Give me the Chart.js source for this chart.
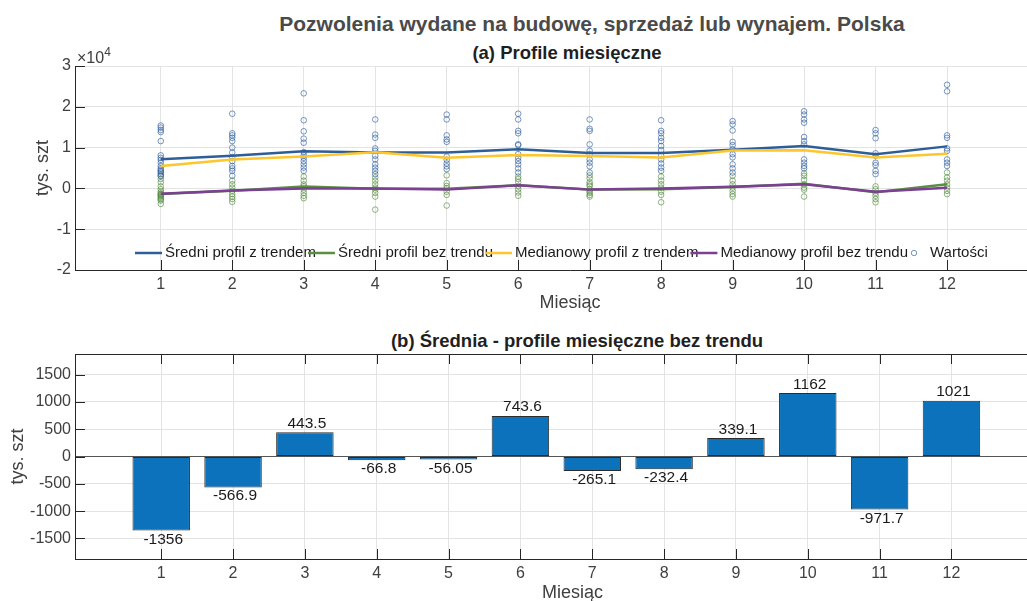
<!DOCTYPE html>
<html>
<head>
<meta charset="utf-8">
<script src="https://cdn.jsdelivr.net/npm/chart.js@4.4.0/dist/chart.umd.min.js"></script>
<style>
    html, body { margin: 0; padding: 0; background: #fff; overflow: hidden; }
    #wrap { position: relative; width: 1027px; height: 601px; overflow: hidden; }
    .box { position: absolute; left: 0; }
    .title {
        position: absolute;
        font-family: 'Liberation Sans', Arial, sans-serif;
        font-weight: bold;
        white-space: nowrap;
        transform: translateX(-50%);
        line-height: 1;
    }
</style>
</head>
<body>
<div id="wrap">
    <div class="title" style="left:592px;top:13px;font-size:21px;color:#4a4a4a;">Pozwolenia wydane na budowę, sprzedaż lub wynajem. Polska</div>
    <div class="title" style="left:567px;top:44px;font-size:18.5px;color:#1f1f1f;">(a) Profile miesięczne</div>
    <div class="title" style="left:577px;top:332px;font-size:18.5px;color:#1f1f1f;">(b) Średnia - profile miesięczne bez trendu</div>
    <canvas id="profileChart" class="box" style="top:0" width="1070" height="320"></canvas>
    <canvas id="barChart" class="box" style="top:320px" width="1070" height="281"></canvas>
</div>

<script>
// Dane
const months = [1, 2, 3, 4, 5, 6, 7, 8, 9, 10, 11, 12];

const meanTrend = [7150, 8000, 9100, 8800, 8800, 9600, 8700, 8700, 9500, 10400, 8400, 10300];
const meanNoTrend = [-1356, -566.9, 443.5, -66.8, -56.05, 743.6, -265.1, -232.4, 339.1, 1162, -971.7, 1021];
const medianTrend = [5500, 7100, 7800, 8850, 7500, 8200, 7950, 7600, 9300, 9350, 7600, 8500];
const medianNoTrend = [-1300, -500, 0, 0, -300, 800, -300, 0, 400, 1000, -800, 150];

// Wartości roczne z trendem (dla każdego miesiąca)
const valuesTrend = [
    [15400, 14900, 14300, 13800, 11600, 8100, 7500, 7000, 6300, 5500, 4900, 4500, 4200, 3900, 3500, 3000],
    [18300, 13500, 13000, 12400, 11600, 10000, 8800, 7600, 6700, 5500, 4900, 4300, 3100],
    [23300, 16700, 14000, 12200, 11200, 8900, 8100, 7500, 6700, 5900, 5100, 4300],
    [16900, 13200, 12400, 9800, 9200, 8000, 7100, 5900, 5100, 4300, 3500],
    [18100, 16900, 13000, 12000, 11400, 7800, 7000, 6100, 5400, 4700],
    [18300, 16900, 14100, 13500, 10800, 10600, 8400, 7500, 6700, 5900, 4900, 3900],
    [16900, 14600, 14100, 10800, 9200, 8400, 7100, 6300, 5400, 3900],
    [16700, 14100, 13500, 12400, 11600, 10400, 9400, 8000, 7100, 6100, 5100, 4300],
    [16500, 15700, 14200, 11400, 10600, 9600, 8400, 7600, 5900, 4900, 3900],
    [18900, 18100, 16900, 16100, 12600, 11600, 10800, 7100, 6300, 5500, 4900],
    [14300, 13500, 12300, 8600, 8000, 6300, 5700, 4300, 3500],
    [25400, 23800, 13000, 12400, 9800, 9200, 7100, 6300, 5500]
];

// Wartości roczne bez trendu
const valuesNoTrend = [
    [3100, 2300, 1500, 500, -200, -800, -1200, -1400, -1600, -1800, -2100, -2400, -2700, -3000, -3800],
    [1900, 1000, 200, -600, -1400, -2000, -2600, -3300],
    [2900, 1900, 1000, 500, -300, -1100, -1800, -2400],
    [2700, 1900, 1000, 200, -300, -1100, -2000, -5200],
    [3200, 1300, 600, 0, -800, -1600, -4200],
    [2900, 2300, 1500, 600, -200, -1000, -1800],
    [3200, 2500, 1500, 1000, 600, -200, -700, -1100, -1600, -2000],
    [2900, 1900, 1000, 200, -800, -1600, -3400],
    [3100, 1900, 1000, 200, -600, -1400, -2000],
    [3700, 3100, 2100, 1000, 200, -300, -2000],
    [500, -200, -1100, -1800, -2600, -3400],
    [3900, 2700, 1900, 1000, 200, -600, -1400]
];

const topTicks = [-20000, -10000, 0, 10000, 20000, 30000];
const barTicks = [-1500, -1000, -500, 0, 500, 1000, 1500];

const FONT = "'Liberation Sans', Arial, Helvetica, sans-serif";
const AXIS_COLOR = '#262626';
const TICK_COLOR = '#404040';
const GRID_COLOR = '#e3e3e3';

const toPoints = (xs, ys) => xs.map((x, i) => ({ x: x, y: ys[i] }));
const spread = (groups) => groups.flatMap((arr, i) => arr.map(v => ({ x: months[i], y: v })));

// Kreski podziałki skierowane do wewnątrz (jak w MATLAB)
const innerTicks = {
    id: 'innerTicks',
    afterDraw(chart, args, opts) {
        const { ctx, chartArea: a, scales: { x, y } } = chart;
        ctx.save();
        ctx.strokeStyle = AXIS_COLOR;
        ctx.lineWidth = 1;
        ctx.beginPath();
        x.ticks.forEach(t => {
            const px = Math.round(x.getPixelForValue(t.value)) + 0.5;
            ctx.moveTo(px, a.bottom);
            ctx.lineTo(px, a.bottom - 10);
            if (opts.box) {
                ctx.moveTo(px, a.top);
                ctx.lineTo(px, a.top + 10);
            }
        });
        y.ticks.forEach(t => {
            const py = Math.round(y.getPixelForValue(t.value)) + 0.5;
            ctx.moveTo(a.left, py);
            ctx.lineTo(a.left + 10, py);
        });
        if (opts.box) {
            ctx.moveTo(a.left, a.top + 0.5);
            ctx.lineTo(a.right, a.top + 0.5);
        }
        ctx.stroke();

        if (opts.exponent) {
            ctx.fillStyle = TICK_COLOR;
            ctx.textBaseline = 'alphabetic';
            ctx.font = '16px ' + FONT;
            ctx.fillText('\u00d710', a.left + 2, a.top - 3);
            const w = ctx.measureText('\u00d710').width;
            ctx.font = '12px ' + FONT;
            ctx.fillText('4', a.left + 2 + w, a.top - 10);
        }
        ctx.restore();
    }
};

// Legenda wewnątrz osi
const inlineLegend = {
    id: 'inlineLegend',
    afterDatasetsDraw(chart, args, opts) {
        const ctx = chart.ctx;
        ctx.save();
        ctx.font = '15px ' + FONT;
        ctx.textBaseline = 'middle';
        let x = opts.x;
        const y = opts.y;
        chart.data.datasets.forEach(ds => {
            if (ds.hideInLegend) return;
            if (ds.showLine) {
                ctx.strokeStyle = ds.borderColor;
                ctx.lineWidth = ds.borderWidth;
                ctx.beginPath();
                ctx.moveTo(x, y);
                ctx.lineTo(x + 27, y);
                ctx.stroke();
            } else {
                ctx.strokeStyle = ds.borderColor;
                ctx.lineWidth = ds.pointBorderWidth || 1;
                ctx.beginPath();
                ctx.arc(x + 14, y, 2.7, 0, Math.PI * 2);
                ctx.stroke();
            }
            ctx.fillStyle = '#1a1a1a';
            ctx.fillText(ds.label, x + 30, y);
            x += 30 + ctx.measureText(ds.label).width - 8;
        });
        ctx.restore();
    }
};

// Etykiety wartości nad/pod słupkami
const barLabels = {
    id: 'barLabels',
    afterDatasetsDraw(chart) {
        const ctx = chart.ctx;
        const meta = chart.getDatasetMeta(0);
        const data = chart.data.datasets[0].data;
        ctx.save();
        ctx.font = '15.5px ' + FONT;
        ctx.fillStyle = '#1a1a1a';
        ctx.textAlign = 'center';
        meta.data.forEach((el, i) => {
            const v = data[i].y;
            if (v >= 0) {
                ctx.textBaseline = 'bottom';
                ctx.fillText(String(v), el.x + 2, el.y - 1);
            } else {
                ctx.textBaseline = 'top';
                ctx.fillText(String(v), el.x + 2, el.y + 1);
            }
        });
        ctx.restore();
    }
};

function xScale(height, titlePad) {
    return {
        type: 'linear',
        min: -0.2,
        max: 13.65,
        offset: false,
        afterBuildTicks: s => { s.ticks = months.map(v => ({ value: v })); },
        afterFit: s => { s.height = height; },
        grid: { color: GRID_COLOR, drawTicks: false, offset: false },
        border: { color: AXIS_COLOR },
        ticks: { padding: 5, color: TICK_COLOR, font: { family: FONT, size: 16 }, maxRotation: 0 },
        title: {
            display: true,
            text: 'Miesiąc',
            color: TICK_COLOR,
            font: { family: FONT, size: 18 },
            padding: { top: 0, bottom: titlePad }
        }
    };
}

function yScale(min, max, ticks, titlePad, gridColor, fmt) {
    return {
        min: min,
        max: max,
        afterBuildTicks: s => { s.ticks = ticks.map(v => ({ value: v })); },
        afterFit: s => { s.width = 75; },
        grid: { color: gridColor, drawTicks: false },
        border: { color: AXIS_COLOR },
        ticks: { padding: 4, color: TICK_COLOR, font: { family: FONT, size: 16 }, callback: fmt },
        title: {
            display: true,
            text: 'tys. szt',
            color: TICK_COLOR,
            font: { family: FONT, size: 18 },
            padding: { top: titlePad, bottom: 0 }
        }
    };
}

new Chart(document.getElementById('profileChart').getContext('2d'), {
    type: 'scatter',
    data: {
        datasets: [
            {
                label: 'Średni profil z trendem',
                data: toPoints(months, meanTrend),
                showLine: true,
                borderColor: '#2e5e97',
                borderWidth: 2.5,
                pointRadius: 0,
                order: 4
            },
            {
                label: 'Średni profil bez trendu',
                data: toPoints(months, meanNoTrend),
                showLine: true,
                borderColor: '#5b8e43',
                borderWidth: 2.5,
                pointRadius: 0,
                order: 3
            },
            {
                label: 'Medianowy profil z trendem',
                data: toPoints(months, medianTrend),
                showLine: true,
                borderColor: '#fcc62c',
                borderWidth: 2.5,
                pointRadius: 0,
                order: 2
            },
            {
                label: 'Medianowy profil bez trendu',
                data: toPoints(months, medianNoTrend),
                showLine: true,
                borderColor: '#7b3f93',
                borderWidth: 2.5,
                pointRadius: 0,
                order: 1
            },
            {
                label: 'Wartości',
                data: spread(valuesTrend),
                showLine: false,
                borderColor: 'rgba(46, 94, 160, 0.65)',
                backgroundColor: 'rgba(0, 0, 0, 0)',
                pointRadius: 2.8,
                pointBorderWidth: 1,
                order: 10
            },
            {
                label: 'Wartości bez trendu',
                hideInLegend: true,
                data: spread(valuesNoTrend),
                showLine: false,
                borderColor: 'rgba(80, 140, 60, 0.65)',
                backgroundColor: 'rgba(0, 0, 0, 0)',
                pointRadius: 2.8,
                pointBorderWidth: 1,
                order: 11
            }
        ]
    },
    options: {
        responsive: false,
        animation: false,
        layout: { padding: { top: 66, left: 0, right: 0, bottom: 0 } },
        plugins: {
            legend: { display: false },
            tooltip: { enabled: false },
            innerTicks: { box: false, exponent: true },
            inlineLegend: { x: 135, y: 253 }
        },
        scales: {
            x: xScale(50, 6),
            y: yScale(-20000, 30000, topTicks, 32, GRID_COLOR, v => String(v / 10000))
        }
    },
    plugins: [innerTicks, inlineLegend]
});

new Chart(document.getElementById('barChart').getContext('2d'), {
    type: 'bar',
    data: {
        datasets: [
            {
                label: 'Średnia bez trendu',
                data: toPoints(months, meanNoTrend),
                backgroundColor: '#0b72bb',
                borderColor: '#2b2b2b',
                borderWidth: 1,
                borderSkipped: false,
                barPercentage: 0.8,
                categoryPercentage: 1
            }
        ]
    },
    options: {
        responsive: false,
        animation: false,
        layout: { padding: { top: 34, left: 0, right: 0, bottom: 0 } },
        plugins: {
            legend: { display: false },
            tooltip: { enabled: false },
            innerTicks: { box: true, exponent: false }
        },
        scales: {
            x: xScale(42, -3),
            y: yScale(-1877, 1877, barTicks, 7,
                c => (c.tick && c.tick.value === 0) ? '#555555' : GRID_COLOR,
                v => String(v))
        }
    },
    plugins: [innerTicks, barLabels]
});
</script>
</body>
</html>
